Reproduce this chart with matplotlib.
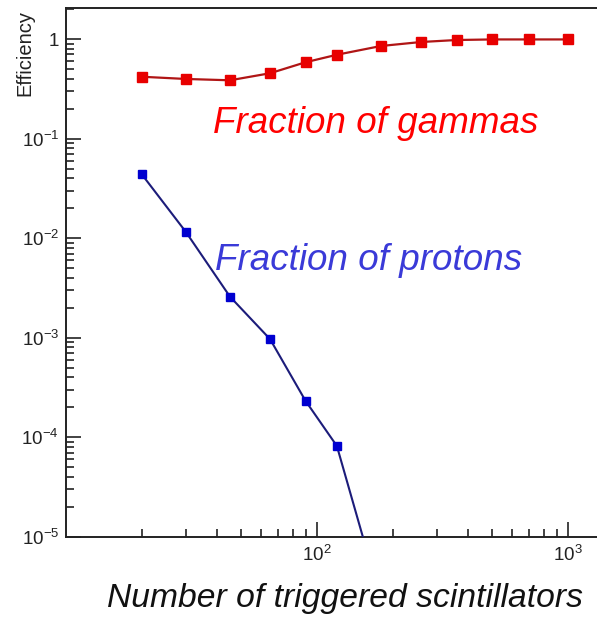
import matplotlib
matplotlib.use("Agg")
import matplotlib.pyplot as plt
from matplotlib.ticker import FixedLocator, FixedFormatter, LogLocator, NullFormatter

plt.rcParams['font.family'] = ['Liberation Sans', 'DejaVu Sans']
plt.rcParams['mathtext.fontset'] = 'custom'
plt.rcParams['mathtext.rm'] = 'Liberation Sans'
plt.rcParams['mathtext.it'] = 'Liberation Sans:italic'

# Number of triggered scintillators (threshold)
n_scint = [20, 30, 45, 65, 90, 120, 180, 260, 360, 500, 700, 1000]
# Fraction of gamma showers passing the threshold
gamma_frac = [0.418, 0.397, 0.385, 0.453, 0.584, 0.695, 0.851, 0.933, 0.977, 0.99, 0.99, 0.99]
# Fraction of proton showers passing the threshold
proton_n = [20, 30, 45, 65, 90, 120, 180]
proton_frac = [0.0441, 0.0116, 0.00259, 0.00097, 2.33e-4, 8.2e-5, 2.3e-6]

y_ticks = [1, 0.1, 0.01, 1e-3, 1e-4, 1e-5]
y_tick_labels = ['1', r'$\mathregular{10^{-1}}$', r'$\mathregular{10^{-2}}$',
                 r'$\mathregular{10^{-3}}$', r'$\mathregular{10^{-4}}$', r'$\mathregular{10^{-5}}$']
x_ticks = [100, 1000]
x_tick_labels = [r'$\mathregular{10^{2}}$', r'$\mathregular{10^{3}}$']

W, H = 597, 617
fig = plt.figure(figsize=(W / 100, H / 100), dpi=100)
left, right, top, bottom = 66, 612, 8, 537
ax = fig.add_axes([left / W, (H - bottom) / H, (right - left) / W, (bottom - top) / H])

ax.set_xscale('log')
ax.set_yscale('log')
ax.set_xlim(10, 10 ** (3 + (right - 568) / 251))
ax.set_ylim(1e-5, 10 ** (31 / 99.6))

ax.plot(n_scint, gamma_frac, color='#b01515', lw=1.6, marker='s', ms=7,
        mfc='#e80000', mec='#e80000', zorder=3)
ax.plot(proton_n, proton_frac, color='#1c1c7a', lw=1.5, marker='s', ms=6,
        mfc='#0000d0', mec='#0000d0', zorder=3)

# Annotations placed in pixel coordinates measured from the top-left corner
ax.text(213, H - 133, 'Fraction of gammas', transform=None, color='#ff0000',
        fontsize=26.5, style='italic', ha='left', va='baseline')
ax.text(215, H - 270, 'Fraction of protons', transform=None, color='#3a3ad8',
        fontsize=26.5, style='italic', ha='left', va='baseline')

for side in ['left', 'bottom', 'top']:
    ax.spines[side].set_linewidth(1.4)
    ax.spines[side].set_color('#222222')
ax.spines['right'].set_visible(False)

ax.yaxis.set_major_locator(FixedLocator(y_ticks))
ax.yaxis.set_major_formatter(FixedFormatter(y_tick_labels))
ax.yaxis.set_minor_locator(LogLocator(base=10, subs=range(2, 10), numticks=20))
ax.yaxis.set_minor_formatter(NullFormatter())
ax.xaxis.set_major_locator(FixedLocator(x_ticks))
ax.xaxis.set_major_formatter(FixedFormatter(x_tick_labels))
ax.xaxis.set_minor_locator(LogLocator(base=10, subs=range(2, 10), numticks=20))
ax.xaxis.set_minor_formatter(NullFormatter())

ax.tick_params(which='both', direction='in', color='#222222', width=1.2,
               top=False, right=False, labelsize=13.5, labelcolor='#222222')
ax.tick_params(which='major', length=11)
ax.tick_params(which='minor', length=5.5)
ax.tick_params(axis='y', pad=5)
ax.tick_params(axis='x', pad=6)

fig.text(25 / W, 1 - 10 / H, 'Efficiency', rotation=90, ha='center', va='top',
         fontsize=14.5, color='#222222')
fig.text(345 / W, 1 - 607 / H, 'Number of triggered scintillators', ha='center',
         va='baseline', fontsize=24.2, style='italic', color='#111111')

fig.savefig('out.png', dpi=100, facecolor='white')
